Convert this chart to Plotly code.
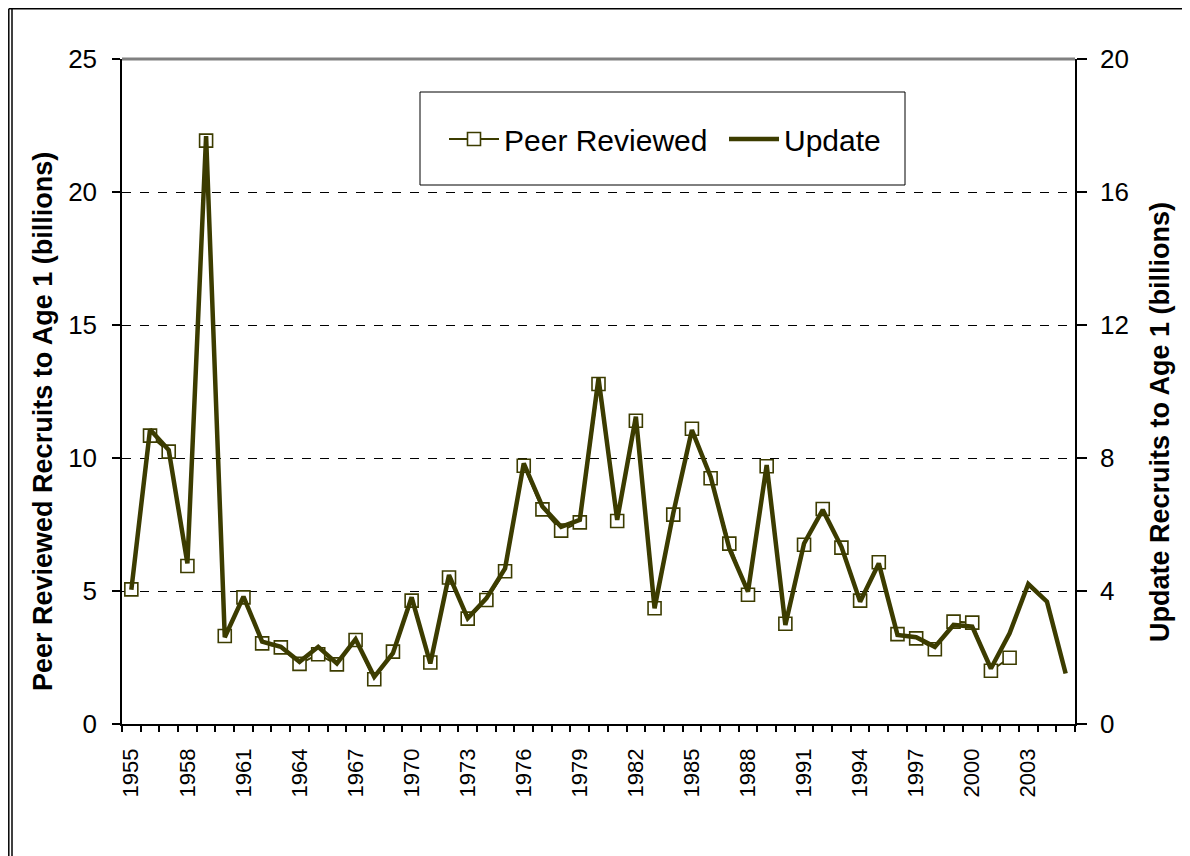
import plotly.graph_objects as go

years_peer = list(range(1955, 2003))
peer_reviewed = [5.06, 10.84, 10.24, 5.94, 21.93, 3.31, 4.76, 3.03, 2.88, 2.26,
                 2.62, 2.24, 3.16, 1.68, 2.72, 4.64, 2.31, 5.51, 3.96, 4.66,
                 5.74, 9.71, 8.07, 7.27, 7.58, 12.78, 7.63, 11.40, 4.35, 7.87,
                 11.10, 9.24, 6.78, 4.86, 9.69, 3.77, 6.74, 8.08, 6.63, 4.64,
                 6.08, 3.38, 3.22, 2.81, 3.85, 3.81, 2.00, 2.49]

years_update = list(range(1955, 2006))
update = [4.04, 8.86, 8.24, 4.83, 17.68, 2.61, 3.83, 2.48, 2.32, 1.87,
          2.32, 1.82, 2.55, 1.42, 2.13, 3.81, 1.82, 4.48, 3.18, 3.78,
          4.68, 7.84, 6.54, 5.93, 6.14, 10.40, 6.14, 9.24, 3.48, 6.34,
          8.84, 7.44, 5.28, 3.98, 7.79, 2.98, 5.43, 6.44, 5.33, 3.68,
          4.83, 2.68, 2.61, 2.32, 2.98, 2.93, 1.67, 2.73, 4.21, 3.68, 1.52]

x_tick_years = list(range(1955, 2004, 3))
x_tick_labels = [str(y) for y in x_tick_years]
left_ticks = [0, 5, 10, 15, 20, 25]
right_ticks = [0, 4, 8, 12, 16, 20]
left_title = "Peer Reviewed Recruits to Age 1 (billions)"
right_title = "Update Recruits to Age 1 (billions)"

OLIVE = "#3c3c00"
FONT = "Liberation Sans, Arial, sans-serif"

fig = go.Figure()
fig.add_trace(go.Scatter(
    x=years_peer, y=peer_reviewed, name="Peer Reviewed",
    mode="lines+markers",
    line=dict(color=OLIVE, width=2),
    marker=dict(symbol="square", size=13, color="white",
                line=dict(color=OLIVE, width=1.6)),
    yaxis="y",
))
fig.add_trace(go.Scatter(
    x=years_update, y=update, name="Update",
    mode="lines",
    line=dict(color=OLIVE, width=4.5),
    yaxis="y2",
))

# page body has an 8px margin: figure coords = screen coords - 8
OFF = 8
W, H = 1182, 848
L, R, T, B = 122 - OFF, 115, 59 - OFF, 132
pw, ph = W - L - R, H - T - B

def px(xs):
    return (xs - OFF - L) / pw

def py(ys):
    return (H - B - (ys - OFF)) / ph

shapes = [
    dict(type="line", xref="paper", yref="paper", x0=0, x1=1, y0=1, y1=1,
         line=dict(color="#808080", width=3), layer="above"),
    dict(type="rect", xref="paper", yref="paper",
         x0=px(420), x1=px(905), y0=py(185), y1=py(92),
         line=dict(color="black", width=1), fillcolor="white", layer="below"),
    dict(type="line", xref="paper", yref="paper", x0=px(8.8), x1=px(8.8),
         y0=py(8.8), y1=py(870), line=dict(color="black", width=1.5)),
    dict(type="line", xref="paper", yref="paper", x0=px(12), x1=px(12),
         y0=py(8.8), y1=py(870), line=dict(color="black", width=1.5)),
    dict(type="line", xref="paper", yref="paper", x0=px(8.8), x1=px(1200),
         y0=py(8.8), y1=py(8.8), line=dict(color="black", width=1.5)),
]

annotations = [
    dict(text="<b>" + left_title + "</b>", xref="paper", yref="paper",
         x=px(43), y=py(422), xanchor="center", yanchor="middle",
         textangle=-90, showarrow=False,
         font=dict(size=27, family=FONT, color="black")),
    dict(text="<b>" + right_title + "</b>", xref="paper", yref="paper",
         x=px(1160), y=py(422), xanchor="center", yanchor="middle",
         textangle=-90, showarrow=False,
         font=dict(size=27, family=FONT, color="black")),
]

fig.update_layout(
    width=W, height=H,
    margin=dict(l=L, r=R, t=T, b=B),
    paper_bgcolor="white", plot_bgcolor="white",
    font=dict(family=FONT, color="black"),
    showlegend=True,
    legend=dict(orientation="h", x=px(444), xanchor="left",
                y=py(139), yanchor="middle",
                bgcolor="rgba(0,0,0,0)", borderwidth=0,
                font=dict(size=30, family=FONT), itemwidth=50,
                entrywidth=215),
    xaxis=dict(
        range=[1954.5, 2005.5],
        tickmode="array", tickvals=x_tick_years, ticktext=x_tick_labels,
        tickangle=-90, ticks="outside", ticklen=14,
        tickcolor="rgba(0,0,0,0)",
        tickfont=dict(size=22, family=FONT),
        showline=True, linecolor="black", linewidth=1.5,
        showgrid=False, zeroline=False,
        minor=dict(tick0=1954.5, dtick=1, ticks="outside", ticklen=6,
                   tickcolor="black", tickwidth=1.5, showgrid=False),
    ),
    yaxis=dict(
        range=[0, 25], tickmode="array", tickvals=left_ticks,
        ticks="outside", ticklen=8, tickwidth=1.5, tickcolor="black",
        tickfont=dict(size=26, family=FONT), ticklabelstandoff=10,
        showline=True, linecolor="black", linewidth=1.5,
        showgrid=True, gridcolor="black", gridwidth=1, griddash="dash",
        zeroline=False,
    ),
    yaxis2=dict(
        range=[0, 20], tickmode="array", tickvals=right_ticks,
        overlaying="y", side="right",
        ticks="outside", ticklen=10, tickwidth=1.5, tickcolor="black",
        tickfont=dict(size=26, family=FONT), ticklabelstandoff=8,
        showline=True, linecolor="black", linewidth=1.5,
        showgrid=False, zeroline=False,
    ),
    shapes=shapes,
    annotations=annotations,
)

fig.write_html("out.html")
